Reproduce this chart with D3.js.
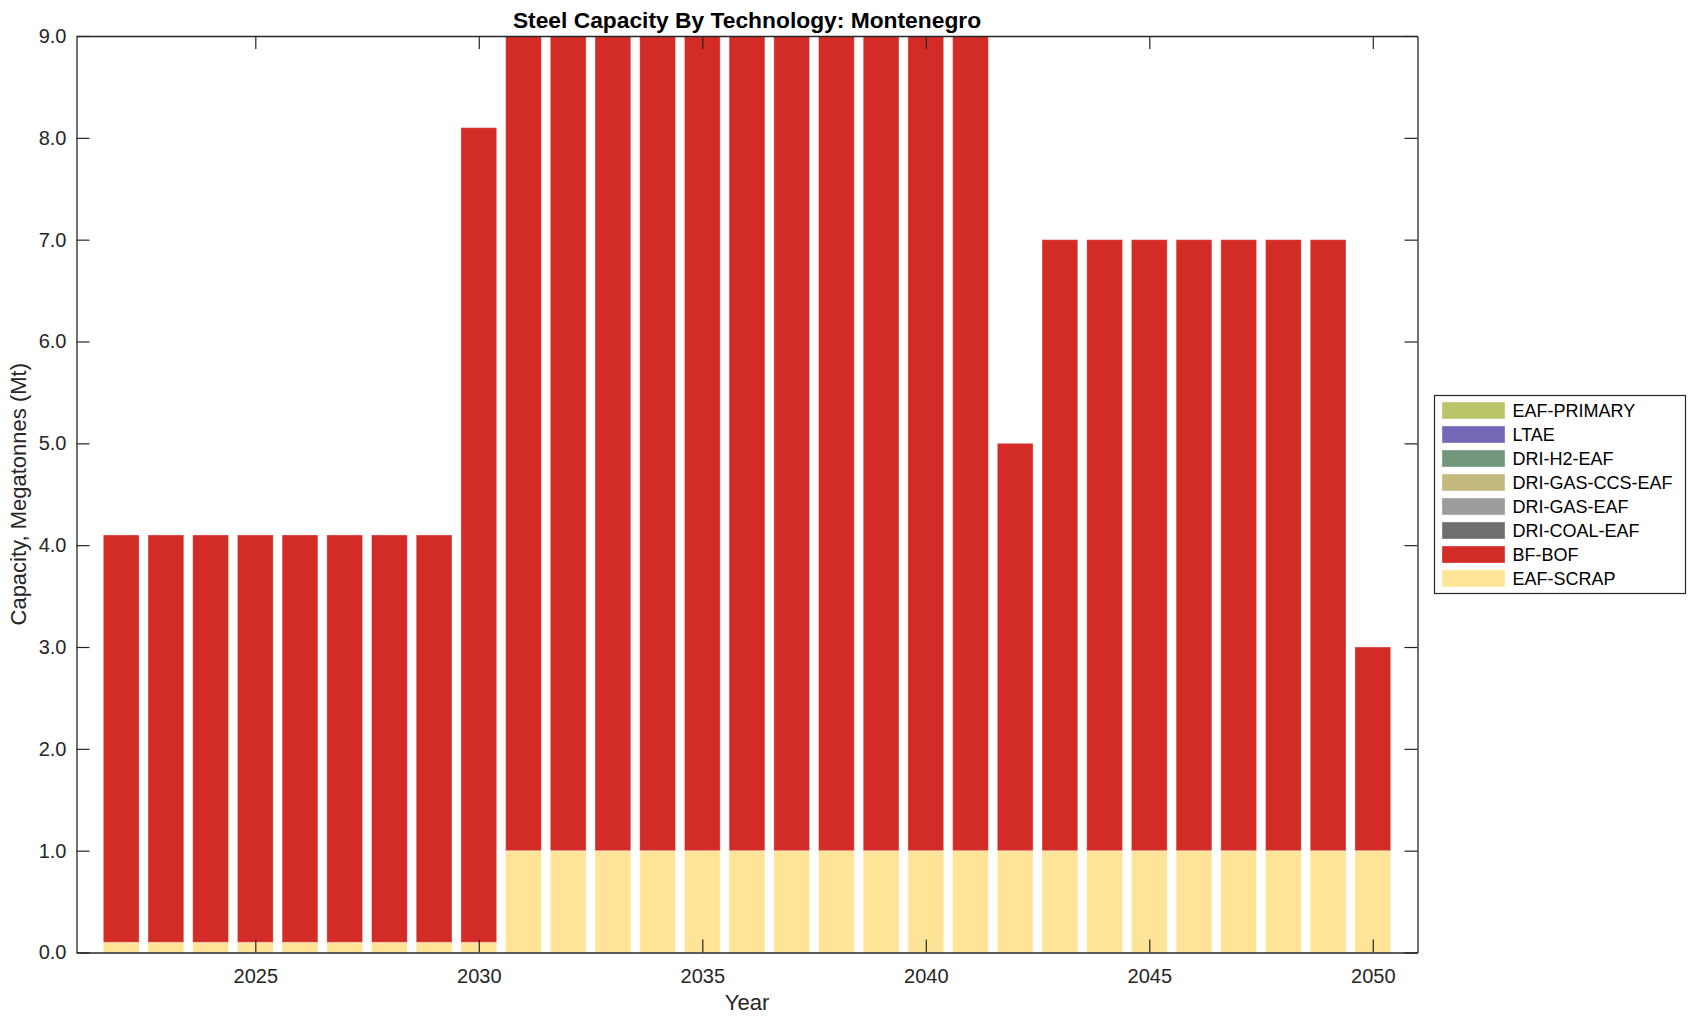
<!DOCTYPE html>
<html>
<head>
<meta charset="utf-8">
<script src="https://cdn.jsdelivr.net/npm/d3@7"></script>
<style>
  html, body { margin: 0; padding: 0; background: #fff; }
  svg { display: block; font-family: "Liberation Sans", Arial, Helvetica, sans-serif; }
</style>
</head>
<body>
<svg id="chart" width="1696" height="1021"></svg>
<script>
// ---- data ----
const years = [2022,2023,2024,2025,2026,2027,2028,2029,2030,2031,2032,2033,2034,2035,2036,2037,2038,2039,2040,2041,2042,2043,2044,2045,2046,2047,2048,2049,2050];
const eafScrap   = [0.1,0.1,0.1,0.1,0.1,0.1,0.1,0.1,0.1,1,1,1,1,1,1,1,1,1,1,1,1,1,1,1,1,1,1,1,1];
const bfBof      = [4,4,4,4,4,4,4,4,8,8,8,8,8,8,8,8,8,8,8,8,4,6,6,6,6,6,6,6,2];
const driCoalEaf = [0,0,0,0,0,0,0,0,0,0,0,0,0,0,0,0,0,0,0,0,0,0,0,0,0,0,0,0,0];
const driGasEaf  = [0,0,0,0,0,0,0,0,0,0,0,0,0,0,0,0,0,0,0,0,0,0,0,0,0,0,0,0,0];
const driGasCcsEaf = [0,0,0,0,0,0,0,0,0,0,0,0,0,0,0,0,0,0,0,0,0,0,0,0,0,0,0,0,0];
const driH2Eaf   = [0,0,0,0,0,0,0,0,0,0,0,0,0,0,0,0,0,0,0,0,0,0,0,0,0,0,0,0,0];
const ltae       = [0,0,0,0,0,0,0,0,0,0,0,0,0,0,0,0,0,0,0,0,0,0,0,0,0,0,0,0,0];
const eafPrimary = [0,0,0,0,0,0,0,0,0,0,0,0,0,0,0,0,0,0,0,0,0,0,0,0,0,0,0,0,0];

// stack order bottom -> top
const seriesNames  = ["EAF-SCRAP","BF-BOF","DRI-COAL-EAF","DRI-GAS-EAF","DRI-GAS-CCS-EAF","DRI-H2-EAF","LTAE","EAF-PRIMARY"];
const seriesValues = [eafScrap, bfBof, driCoalEaf, driGasEaf, driGasCcsEaf, driH2Eaf, ltae, eafPrimary];
const seriesColors = ["#FFE396","#D32B26","#6E6E6E","#9C9C9A","#C4BA7E","#73977C","#7468B7","#BDC56B"];

const xTicks = [2025, 2030, 2035, 2040, 2045, 2050];
const yTicks = [0,1,2,3,4,5,6,7,8,9];
const xDomain = [2021, 2051];
const yDomain = [0, 9];

const titleText = "Steel Capacity By Technology: Montenegro";
const xLabel = "Year";
const yLabel = "Capacity, Megatonnes (Mt)";

// ---- layout ----
const L = 76.5, R = 1417.5, T = 36, B = 952.5;
const axisColor = "#262626";
const tickLen = 13;

const svg = d3.select("#chart");
const x = d3.scaleLinear().domain(xDomain).range([L, R]);
const y = d3.scaleLinear().domain(yDomain).range([B, T]);

// stacked data
const rows = years.map((yr, i) => {
  const o = { year: yr };
  seriesNames.forEach((n, k) => o[n] = seriesValues[k][i]);
  return o;
});
const stacked = d3.stack().keys(seriesNames)(rows);

svg.append("defs").append("clipPath").attr("id", "plotclip")
  .append("rect").attr("x", L).attr("y", T).attr("width", R - L).attr("height", B - T);

const barW = x(xDomain[0] + 0.8) - x(xDomain[0]);
const gBars = svg.append("g").attr("clip-path", "url(#plotclip)");
stacked.forEach((layer, k) => {
  gBars.append("g")
    .selectAll("rect")
    .data(layer.filter(d => d[1] - d[0] > 0))
    .join("rect")
    .attr("x", d => x(d.data.year) - barW / 2)
    .attr("width", barW)
    .attr("y", d => y(d[1]))
    .attr("height", d => y(d[0]) - y(d[1]))
    .attr("fill", seriesColors[k])
    .attr("stroke", "rgba(255,255,255,0.35)")
    .attr("stroke-width", 1);
});

// axes (box with inward ticks)
const fmt = d3.format(".1f");
const axBottom = d3.axisBottom(x).tickValues(xTicks).tickFormat(d3.format("d")).tickSizeInner(-tickLen).tickSizeOuter(0).tickPadding(16);
const axTop = d3.axisTop(x).tickValues(xTicks).tickFormat("").tickSizeInner(-tickLen).tickSizeOuter(0);
const axLeft = d3.axisLeft(y).tickValues(yTicks).tickFormat(fmt).tickSizeInner(-tickLen).tickSizeOuter(0).tickPadding(10);
const axRight = d3.axisRight(y).tickValues(yTicks).tickFormat("").tickSizeInner(-tickLen).tickSizeOuter(0);

function styleAxis(g) {
  g.select(".domain").attr("stroke", axisColor).attr("stroke-width", 1.3);
  g.selectAll(".tick line").attr("stroke", axisColor).attr("stroke-width", 1.2);
  g.selectAll(".tick text").attr("fill", axisColor).style("font-size", "20px")
    .style("font-family", '"Liberation Sans", Arial, Helvetica, sans-serif');
}
svg.append("g").attr("transform", `translate(0,${B})`).call(axBottom).call(styleAxis);
svg.append("g").attr("transform", `translate(0,${T})`).call(axTop).call(styleAxis);
svg.append("g").attr("transform", `translate(${L},0)`).call(axLeft).call(styleAxis);
svg.append("g").attr("transform", `translate(${R},0)`).call(axRight).call(styleAxis);

// title & labels
svg.append("text")
  .attr("x", (L + R) / 2).attr("y", 28)
  .attr("text-anchor", "middle")
  .attr("font-weight", "bold")
  .attr("font-size", 22.8)
  .attr("fill", "#000")
  .text(titleText);

svg.append("text")
  .attr("x", (L + R) / 2).attr("y", 1010)
  .attr("text-anchor", "middle")
  .attr("font-size", 22)
  .attr("fill", axisColor)
  .text(xLabel);

svg.append("text")
  .attr("transform", `translate(26,${(T + B) / 2}) rotate(-90)`)
  .attr("text-anchor", "middle")
  .attr("font-size", 22)
  .attr("fill", axisColor)
  .text(yLabel);

// legend (reverse of stack order)
const legX = 1434.5, legY = 395.5, legW = 251, legH = 198;
const lg = svg.append("g");
lg.append("rect").attr("x", legX).attr("y", legY).attr("width", legW).attr("height", legH)
  .attr("fill", "#fff").attr("stroke", axisColor).attr("stroke-width", 1.2);
const legendOrder = seriesNames.map((n, k) => k).reverse();
legendOrder.forEach((k, i) => {
  const cy = 410.5 + i * 24;
  lg.append("rect").attr("x", 1442).attr("y", cy - 8.5).attr("width", 63).attr("height", 17)
    .attr("fill", seriesColors[k])
    .attr("stroke", "rgba(255,255,255,0.35)").attr("stroke-width", 1);
  lg.append("text").attr("x", 1512.5).attr("y", cy).attr("dy", "0.36em")
    .attr("font-size", 18).attr("fill", "#000")
    .text(seriesNames[k]);
});
</script>
</body>
</html>
